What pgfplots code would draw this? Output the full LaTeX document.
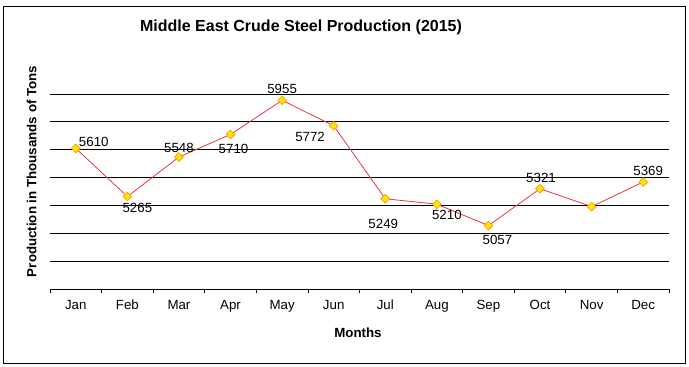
\documentclass[border=0pt]{standalone}
\usepackage{pgfplots}
\pgfplotsset{compat=1.18}
\usepackage{pgfplotstable}
\usepackage{fontspec}
\setmainfont{Liberation Sans}
\definecolor{linered}{RGB}{238,52,64}
\definecolor{mkfill}{RGB}{255,230,0}
\definecolor{mkedge}{RGB}{255,140,0}

\pgfplotstableread{
x y
0 5610
1 5265
2 5548
3 5710
4 5955
5 5772
6 5249
7 5210
8 5057
9 5321
10 5193
11 5369
}\steel

\pgfplotstableread{
x y dx dy lab
0 5610 18 6 5610
1 5265 10 -11 5265
2 5548 0 8.7 5548
3 5710 3 -14.7 5710
4 5955 0 11 5955
5 5772 -23.6 -11 5772
6 5249 -2 -25 5249
7 5210 10 -10.3 5210
8 5057 9 -14 5057
9 5321 1 11 5321
11 5369 5 10.7 5369
}\steellabels

\begin{document}
\begin{tikzpicture}[x=1pt,y=1pt]
\path[use as bounding box] (0,0) rectangle (689,367);
\draw[black, line width=0.8pt] (3.5,3.7) rectangle (685.5,361);
\begin{axis}[
  at={(50pt,77.7pt)}, anchor=south west,
  scale only axis, width=619pt, height=223.2pt,
  xmin=-0.5, xmax=11.5, ymin=4600, ymax=6200,
  axis x line*=bottom, axis y line*=left,
  x axis line style={black, line width=0.8pt, -},
  y axis line style={draw=none},
  xtick={0,...,11},
  xticklabels={Jan,Feb,Mar,Apr,May,Jun,Jul,Aug,Sep,Oct,Nov,Dec},
  minor xtick={-0.5,0.5,...,11.5},
  major tick length=0pt, minor tick length=4pt, tick align=outside,
  minor tick style={black, line width=0.8pt},
  xticklabel style={anchor=base, yshift=-20.2pt, font=\fontsize{13.3}{16}\selectfont},
  ytick={4800,5000,...,6000}, yticklabels={},
  ytick style={draw=none},
  ymajorgrids, major grid style={black, line width=0.8pt},
  clip=false,
]
\addplot[linered, line width=0.8pt, mark=square*, mark size=3.1pt,
  mark options={rotate=45, fill=mkfill, draw=mkedge, line width=0.6pt}]
  table[x=x,y=y]{\steel};
\addplot[draw=none, mark=none, nodes near coords, point meta=explicit symbolic,
  visualization depends on={\thisrow{dx}\as\dx},
  visualization depends on={\thisrow{dy}\as\dy},
  every node near coord/.append style={anchor=center, xshift=\dx pt, yshift=\dy pt,
    font=\fontsize{13.3}{16}\selectfont, inner sep=0pt}]
  table[x=x,y=y,meta=lab]{\steellabels};
\end{axis}
\node[font=\bfseries\fontsize{16}{19}\selectfont] at (301,339.5) {Middle East Crude Steel Production (2015)};
\node[font=\bfseries\fontsize{13.3}{16}\selectfont, rotate=90] at (31.5,195.5) {Production in Thousands of Tons};
\node[font=\bfseries\fontsize{13.3}{16}\selectfont] at (358,34) {Months};
\end{tikzpicture}
\end{document}
